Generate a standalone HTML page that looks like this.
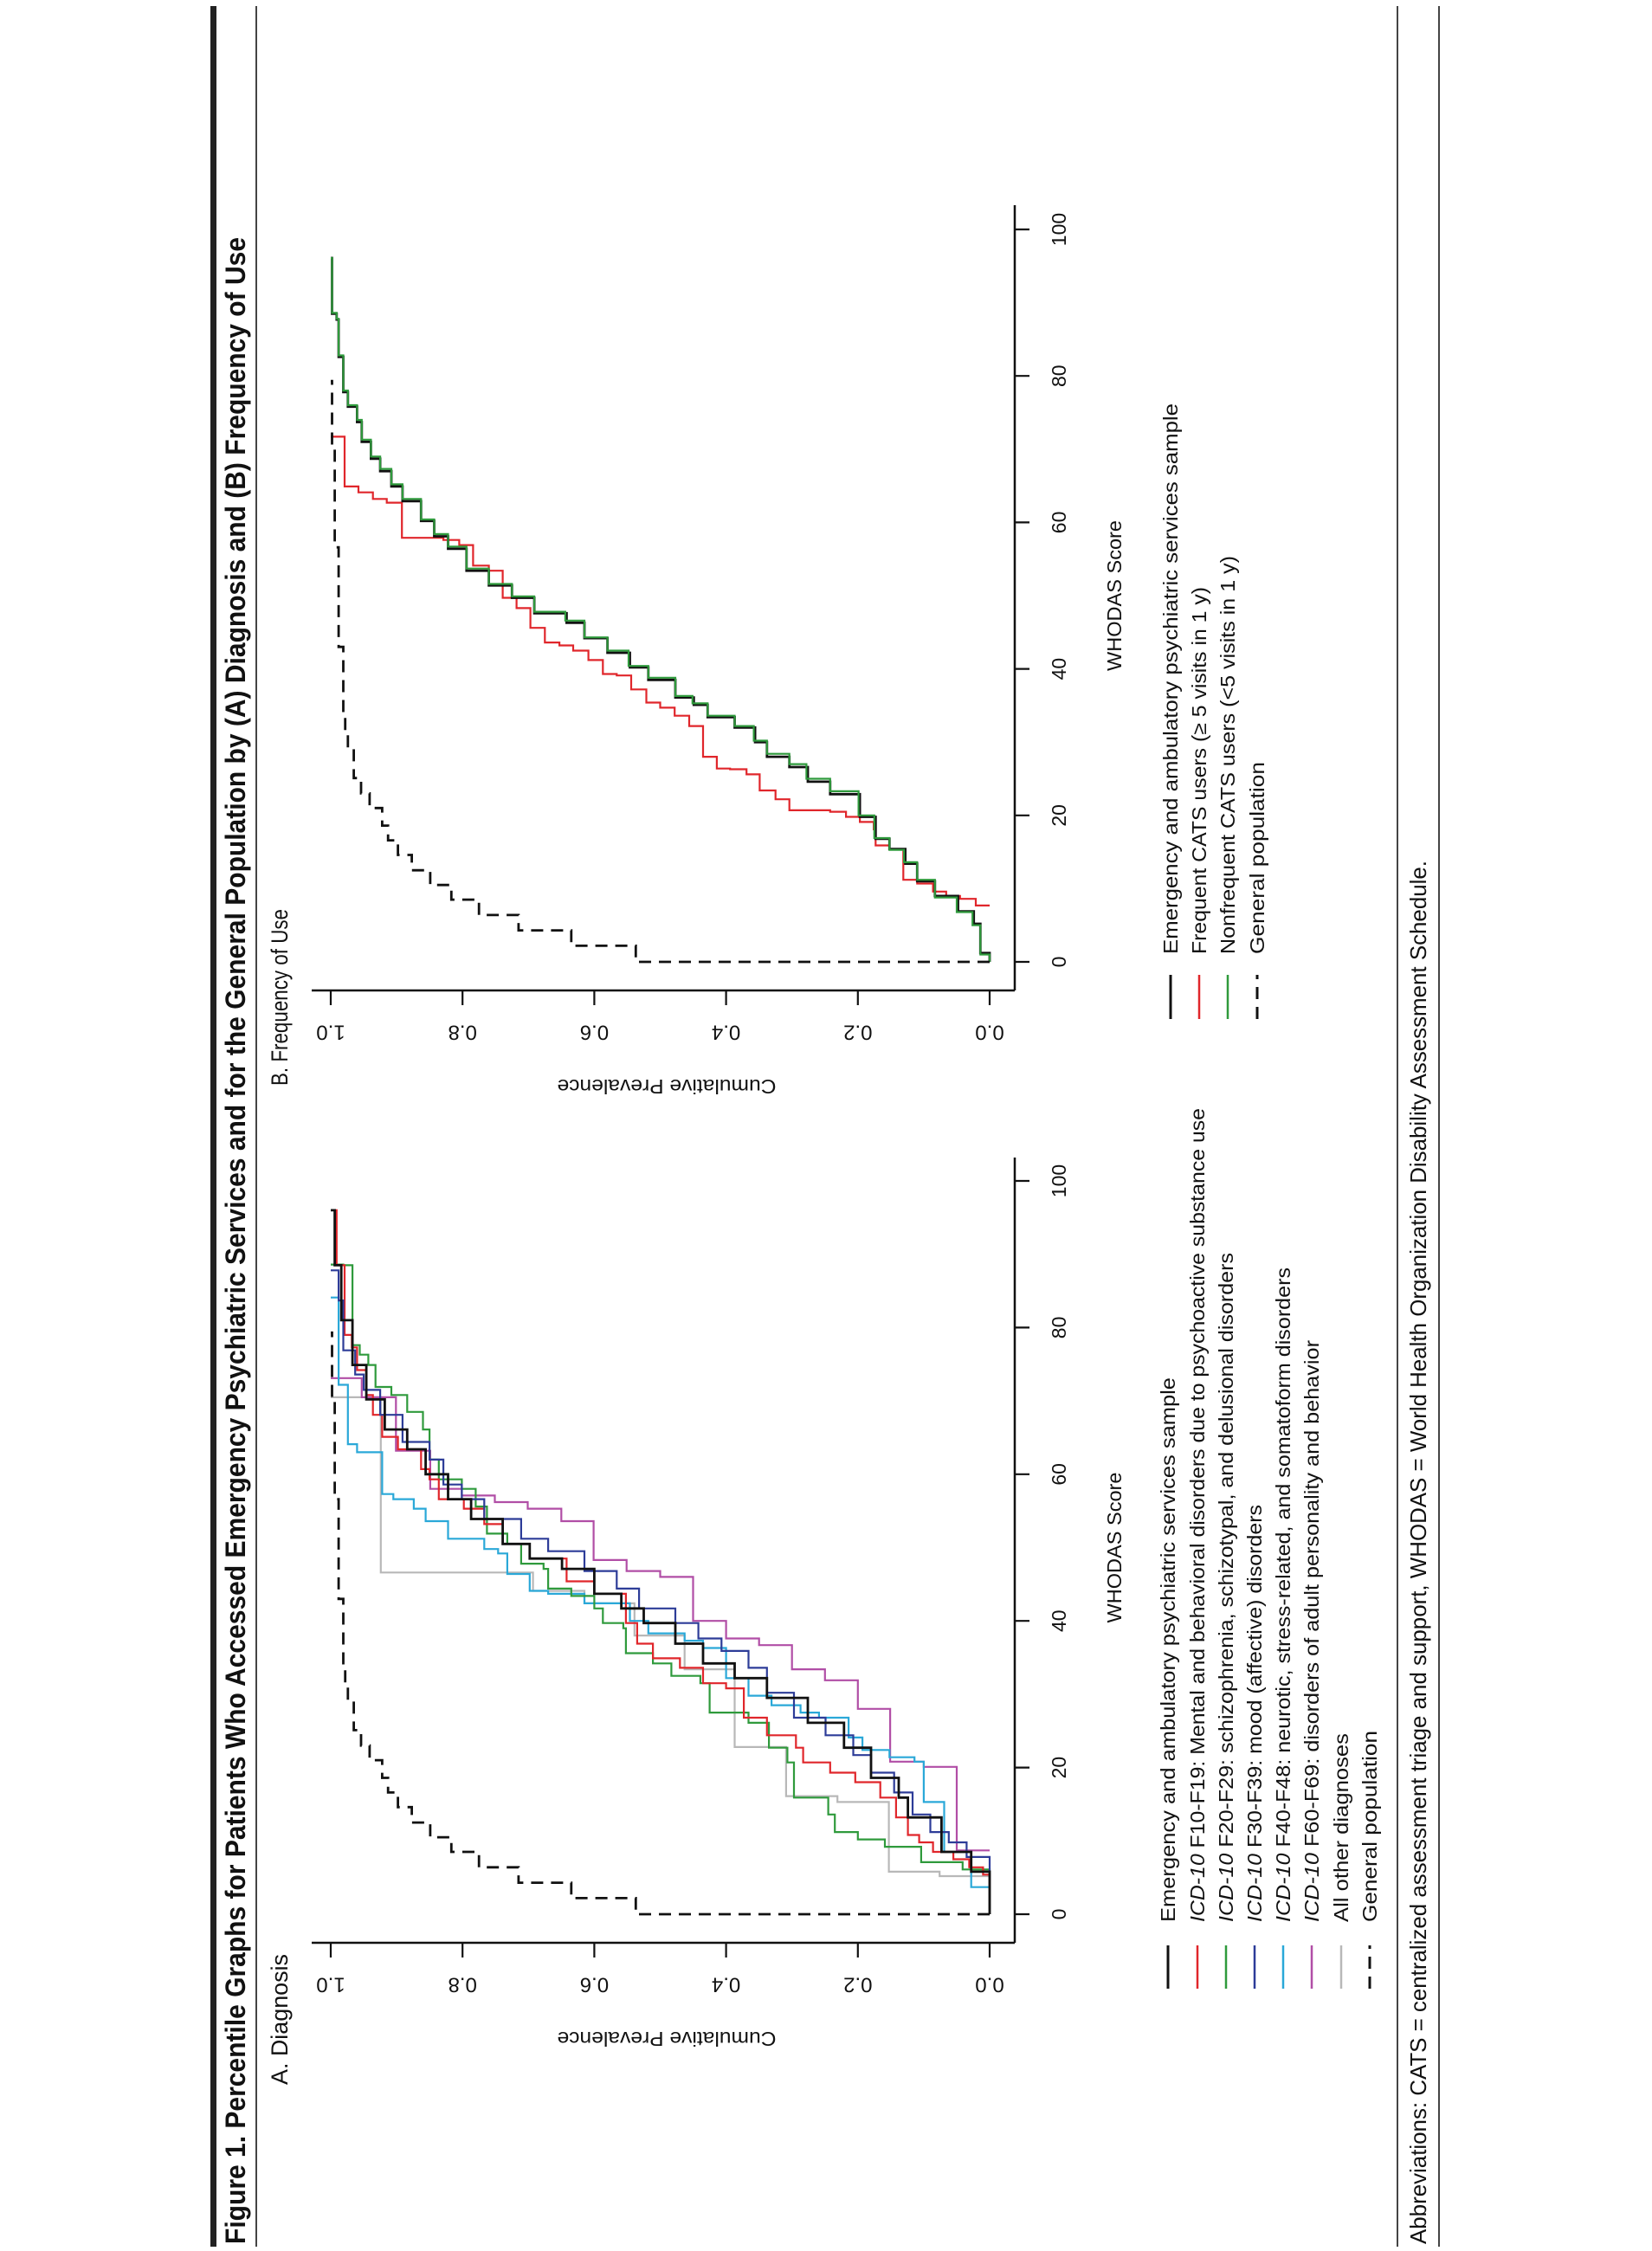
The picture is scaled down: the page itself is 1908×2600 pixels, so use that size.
<!DOCTYPE html>
<html><head><meta charset="utf-8"><style>
html,body{margin:0;padding:0;background:#fff;}
svg{display:block;}
text{font-family:"Liberation Sans Narrow","Liberation Sans",sans-serif;fill:#111;}
</style></head><body>
<svg id="fig" width="1908" height="2600" viewBox="0 0 1908 2600" xmlns="http://www.w3.org/2000/svg">
<rect x="0" y="0" width="1908" height="2600" fill="#fff"/>
<rect x="243" y="7" width="7" height="2588" fill="#222"/>
<rect x="295" y="7" width="2" height="2588" fill="#444"/>
<rect x="1613" y="7" width="2" height="2588" fill="#444"/>
<rect x="1661" y="7" width="2" height="2588" fill="#444"/>
<g id="rot" transform="matrix(0,-1,1,0,0,2600)">
<text x="8" y="283" font-size="32" font-weight="bold" textLength="2318" lengthAdjust="spacingAndGlyphs">Figure 1. Percentile Graphs for Patients Who Accessed Emergency Psychiatric Services and for the General Population by (A) Diagnosis and (B) Frequency of Use</text>
<text x="8" y="1647" font-size="26" textLength="1598" lengthAdjust="spacingAndGlyphs" style="font-family:'Liberation Sans',sans-serif">Abbreviations: CATS = centralized assessment triage and support, WHODAS = World Health Organization Disability Assessment Schedule.</text>
<text x="192" y="332" font-size="27" textLength="151" lengthAdjust="spacingAndGlyphs" style="font-family:'Liberation Sans',sans-serif">A. Diagnosis</text>
<text x="1346" y="332" font-size="27" textLength="204" lengthAdjust="spacingAndGlyphs" style="font-family:'Liberation Sans',sans-serif">B. Frequency of Use</text>
<g id="panelA"></g>
<g id="panelB"></g>
<g id="legendA"></g>
<g id="legendB"></g>
</g>
</svg>
<script>
// ---------- data ----------
const whodasTicks = [0, 20, 40, 60, 80, 100];
const prevTicks = [0, 0.2, 0.4, 0.6, 0.8, 1.0];
const prevTickLabels = ["0.0", "0.2", "0.4", "0.6", "0.8", "1.0"];

const genPopW = [0,0,2.2,4.3,6.4,8.5,10.5,12.5,14.6,16.6,18.6,21,23,25.1,29.2,31.2,33.6,43,56.6,70.2,79.3];
const genPopP = [0,.537,.635,.715,.775,.817,.849,.877,.898,.913,.922,.941,.954,.965,.974,.978,.981,.988,.994,.998,1];

const aAllW = [0,5.8,8.5,13.2,15.9,18.6,22.7,26.1,29.5,32.2,34.2,36.9,39.7,41.7,43.7,47.1,48.5,50.5,53.9,56.6,60,63.4,66.1,70.2,74.9,81,88.5,96];
const aAllP = [0,.028,.073,.124,.138,.18,.221,.276,.338,.387,.435,.477,.525,.559,.6,.649,.698,.739,.787,.822,.856,.884,.918,.946,.967,.984,.994,1];

const aF10W = [0,5.4,6.4,7.5,8.5,9.8,10.8,13.2,15.9,18,19.3,20.7,22.7,24.4,26.8,30.8,31.5,33.6,34.9,36.9,39.7,43.7,45.4,48.5,50.5,53.2,55.3,56.6,59.3,60.7,63.4,65.1,68.1,70.8,74.2,77.3,79,88.5,96];
const aF10P = [0,.01,.031,.055,.086,.107,.124,.142,.166,.204,.242,.283,.294,.338,.373,.4,.435,.47,.511,.535,.552,.6,.642,.698,.739,.767,.798,.836,.85,.863,.898,.922,.936,.946,.96,.968,.979,.991,1];

const aF20W = [0,6.1,7.1,9.2,10.2,11.2,13.6,15.9,20.7,22.7,26.1,27.5,31.5,32.5,34.2,35.6,39,39.7,41.7,43.4,44.4,47.1,47.8,50.5,51.9,55.6,58,59.3,62,66.1,68.5,70.8,71.9,74.9,76.3,77.6,88.5,88.6];
const aF20P = [0,.041,.104,.159,.2,.235,.245,.297,.307,.335,.366,.425,.439,.483,.511,.552,.556,.587,.6,.635,.67,.677,.711,.732,.763,.78,.801,.836,.85,.86,.884,.908,.932,.943,.956,.967,.981,1];

const aF30W = [0.7,7.8,9.8,11.2,13.6,16.6,19.3,21.7,24.4,26.8,30.2,33.6,35.9,37.6,39.7,41.7,44.4,46.8,49.5,51.2,53.9,56.6,58.6,62,64.4,68.1,71.5,73.6,76.9,83.7,87.8];
const aF30P = [0,.035,.062,.09,.117,.145,.18,.207,.249,.297,.338,.366,.407,.442,.477,.532,.566,.615,.67,.711,.767,.801,.829,.85,.891,.925,.95,.963,.981,.988,1];

const aF40W = [0,3.7,8.5,15.3,20.8,21.4,22.4,24.1,26.8,27.5,28.5,29.8,32.2,36.3,37.3,38.3,40,42.4,43.7,44.1,46.4,49.2,49.8,51.2,53.6,55.3,56.6,57.3,63,64.1,72.2,84.1];
const aF40P = [0,.028,.069,.1,.114,.152,.193,.214,.259,.287,.331,.366,.4,.435,.463,.518,.546,.615,.67,.698,.732,.746,.767,.822,.856,.874,.905,.922,.96,.974,.988,1];

const aF60W = [8.7,8.7,20.1,20.8,28,31.9,33.4,36.7,37.6,40,46,46.8,48.3,53.6,55.3,56.2,57.1,58,63.2,70.5,73.1];
const aF60P = [0,.05,.1,.151,.2,.25,.3,.35,.4,.45,.5,.551,.601,.65,.701,.751,.801,.849,.901,.953,1];

const aOtherW = [5.2,5.2,5.8,15.3,16.1,22.8,33.4,38,42.4,44.1,46.6,70.5];
const aOtherP = [0,.076,.153,.231,.309,.387,.463,.539,.615,.693,.924,1];

const bAllW = [0,1.2,5.2,6.9,9,11,13.4,15.4,16.8,19.8,22.9,24.6,26.6,28,30,32,33.4,35.1,36.1,38.5,40.2,42.2,44.2,46.3,47.6,49.7,51.4,53.4,56.4,58.1,60.2,62.9,64.9,67,68.7,71,73.7,75.8,77.8,82.6,87.7,88.5,96.1];
const bAllP = [0,.014,.024,.048,.083,.11,.128,.152,.173,.197,.242,.276,.304,.338,.356,.387,.428,.449,.477,.518,.546,.58,.615,.642,.691,.725,.76,.794,.822,.843,.863,.891,.908,.925,.939,.953,.96,.974,.981,.988,.991,.998,1];

const bNonfreqW = [0,1.0,5.0,6.8,8.8,11.2,13.6,15.3,16.9,20,23.3,25,27,28.4,30.2,32.2,33.6,35.3,36.3,38.8,40.4,42.5,44.3,46.6,47.8,49.9,51.6,53.7,56.7,58.4,60.4,63.2,65.2,67.3,69,71.3,74,76,78,82.8,87.8,88.6,96.1];
const bNonfreqP = [0,.014,.026,.05,.083,.11,.13,.152,.175,.199,.242,.278,.304,.338,.358,.387,.428,.451,.477,.518,.548,.58,.615,.644,.691,.725,.76,.794,.822,.843,.863,.891,.908,.925,.939,.953,.96,.974,.981,.988,.991,.998,1];

const bFreqW = [7.7,7.7,8.6,9,9.6,10.7,11.2,15.4,15.9,18.1,19.1,19.8,20.5,20.7,22.2,23.4,25.6,26.3,26.4,28,32.2,33.6,34.7,35.4,37.2,39.1,39.3,41.2,42.5,43.2,43.6,45.6,48.3,49.7,53.4,54.1,56.9,57.6,57.9,62.7,63.2,64.1,64.9,71.7];
const bFreqP = [0,.021,.045,.066,.086,.11,.131,.152,.173,.176,.197,.218,.242,.304,.325,.349,.369,.394,.414,.435,.456,.478,.5,.521,.544,.566,.587,.609,.632,.653,.675,.697,.718,.739,.76,.784,.805,.829,.892,.915,.936,.958,.979,1];

const legendALabels = [
 ["", "Emergency and ambulatory psychiatric services sample"],
 ["ICD-10", " F10-F19: Mental and behavioral disorders due to psychoactive substance use"],
 ["ICD-10", " F20-F29: schizophrenia, schizotypal, and delusional disorders"],
 ["ICD-10", " F30-F39: mood (affective) disorders"],
 ["ICD-10", " F40-F48: neurotic, stress-related, and somatoform disorders"],
 ["ICD-10", " F60-F69: disorders of adult personality and behavior"],
 ["", "All other diagnoses"],
 ["", "General population"]
];
const legendBLabels = [
 "Emergency and ambulatory psychiatric services sample",
 "Frequent CATS users (\u2265 5 visits in 1 y)",
 "Nonfrequent CATS users (<5 visits in 1 y)",
 "General population"
];

// ---------- drawing ----------
const NS = "http://www.w3.org/2000/svg";
const C = {black:"#111", red:"#e0262b", green:"#2f9a3c", blue:"#2d3c98", cyan:"#2aa8d8", magenta:"#b14ea6", gray:"#b8b8b8"};
function mk(tag, attrs, parent){const e=document.createElementNS(NS,tag);for(const k in attrs)e.setAttribute(k,attrs[k]);parent.appendChild(e);return e;}
function vScale(p){return 1143 - 761*p;}

function drawPanel(g, u0, u1, axisEnd, key){
  const uScale = w => u0 + (u1-u0)*w/100;
  // axes
  const ax1 = mk("line",{x1:356+(u0-389),y1:360,x2:356+(u0-389),y2:1172,stroke:"#111","stroke-width":2.5},g);
  
  
  const ax2 = mk("line",{x1:356+(u0-389),y1:1172,x2:axisEnd,y2:1172,stroke:"#111","stroke-width":2.5},g);
  
  
  const uy = 356+(u0-389);
  prevTicks.forEach((p,i)=>{
    const t = mk("line",{x1:uy,y1:vScale(p),x2:uy-17,y2:vScale(p),stroke:"#111","stroke-width":2.2},g);
    
    
    const lbl = mk("text",{x:uy-48,y:vScale(p),"font-size":24,"text-anchor":"middle","dominant-baseline":"central",transform:`rotate(-90 ${uy-48} ${vScale(p)})`},g);
    lbl.textContent = prevTickLabels[i];
    
    
  });
  whodasTicks.forEach(w=>{
    const t = mk("line",{x1:uScale(w),y1:1172,x2:uScale(w),y2:1189,stroke:"#111","stroke-width":2.2},g);
    
    
    const lbl = mk("text",{x:uScale(w),y:1231,"font-size":23,"text-anchor":"middle"},g);
    lbl.textContent = String(w);
    
    
  });
  const yt = mk("text",{x:uy-111,y:770,"font-size":23,"text-anchor":"middle","dominant-baseline":"central",transform:`rotate(-90 ${uy-111} 770)`,textLength:253,lengthAdjust:"spacingAndGlyphs"},g);
  yt.textContent = "Cumulative Prevalence";
  
  
  const xt = mk("text",{x:(u0+u1)/2-87,y:1295,"font-size":23,textLength:174,lengthAdjust:"spacingAndGlyphs"},g);
  xt.textContent = "WHODAS Score";
  
  
  return uScale;
}

function stepPath(ws, ps, uScale){
  const n = Math.min(ws.length, ps.length);
  let d = `M${uScale(ws[0]).toFixed(1)},${vScale(ps[0]).toFixed(1)}`;
  for(let i=1;i<n;i++){
    d += ` L${uScale(ws[i]).toFixed(1)},${vScale(ps[i-1]).toFixed(1)} L${uScale(ws[i]).toFixed(1)},${vScale(ps[i]).toFixed(1)}`;
  }
  return d;
}
function series(g, ws, ps, uScale, color, width, name, dash){
  const a = {d:stepPath(ws,ps,uScale),fill:"none",stroke:color,"stroke-width":width,"stroke-linejoin":"miter"};
  if(dash) a["stroke-dasharray"]=dash;
  const p = mk("path",a,g);
  
  
}

const gA = document.getElementById("panelA");
const uA = drawPanel(gA, 389, 1236, 1263, "panel-a");
series(gA, aOtherW, aOtherP, uA, C.gray, 2.2, "series-a-other-diagnoses");
series(gA, aF60W, aF60P, uA, C.magenta, 2.2, "series-a-f60-f69");
series(gA, aF40W, aF40P, uA, C.cyan, 2.2, "series-a-f40-f48");
series(gA, aF20W, aF20P, uA, C.green, 2.2, "series-a-f20-f29");
series(gA, aF10W, aF10P, uA, C.red, 2.2, "series-a-f10-f19");
series(gA, aF30W, aF30P, uA, C.blue, 2.2, "series-a-f30-f39");
series(gA, aAllW, aAllP, uA, C.black, 2.8, "series-a-overall-sample");
series(gA, genPopW, genPopP, uA, C.black, 2.8, "series-a-general-population", "14 9");

const gB = document.getElementById("panelB");
const uB = drawPanel(gB, 1489, 2335, 2363, "panel-b");
series(gB, bFreqW, bFreqP, uB, C.red, 2.2, "series-b-frequent-users");
series(gB, bAllW, bAllP, uB, C.black, 2.8, "series-b-overall-sample");
series(gB, bNonfreqW, bNonfreqP, uB, C.green, 2.2, "series-b-nonfrequent-users");
series(gB, genPopW, genPopP, uB, C.black, 2.8, "series-b-general-population", "14 9");

// legends
const legAColors = [C.black,C.red,C.green,C.blue,C.cyan,C.magenta,C.gray,C.black];
const legARows = [1349,1383,1416,1449,1482,1515,1549,1582];
const legAWidths = [629,940,773,482,756,672,218,221];
const lgA = document.getElementById("legendA");
legendALabels.forEach((lab,i)=>{
  const v = legARows[i];
  const a = {x1:303,y1:v,x2:353,y2:v,stroke:legAColors[i],"stroke-width":i===0||i===7?3:2.5};
  if(i===7) a["stroke-dasharray"]="14 9";
  const ln = mk("line",a,lgA);
  
  
  const t = mk("text",{x:380,y:v+8,"font-size":23,textLength:legAWidths[i],lengthAdjust:"spacingAndGlyphs"},lgA);
  
  
  if(lab[0]){const s=document.createElementNS(NS,"tspan");s.setAttribute("font-style","italic");s.textContent=lab[0];t.appendChild(s);}
  const s2=document.createElementNS(NS,"tspan");s2.textContent=lab[1];t.appendChild(s2);
});
const legBColors = [C.black,C.red,C.green,C.black];
const legBRows = [1352,1385,1418,1452];
const legBWidths = [636,424,460,222];
const lgB = document.getElementById("legendB");
legendBLabels.forEach((lab,i)=>{
  const v = legBRows[i];
  const a = {x1:1423,y1:v,x2:1474,y2:v,stroke:legBColors[i],"stroke-width":i===0||i===3?3:2.5};
  if(i===3) a["stroke-dasharray"]="14 9";
  const ln = mk("line",a,lgB);
  
  
  const t = mk("text",{x:1498,y:v+8,"font-size":23,textLength:legBWidths[i],lengthAdjust:"spacingAndGlyphs"},lgB);
  t.textContent = lab;
  
  
});
</script>
</body></html>
